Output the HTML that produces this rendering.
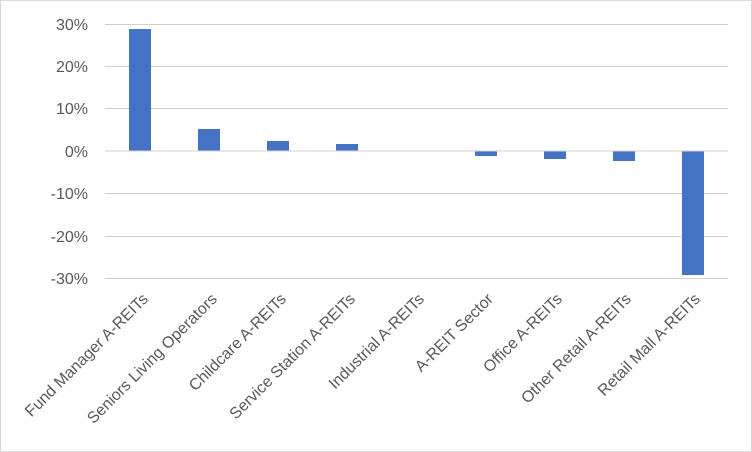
<!DOCTYPE html>
<html><head><style>
body{margin:0;background:#fff}
svg{display:block}
text{font-family:"Liberation Sans",Arial,sans-serif;font-size:16px;fill:#595959}
</style></head><body>
<svg width="752" height="452" viewBox="0 0 752 452">
<rect x="0.5" y="0.5" width="751" height="451" fill="#fff" stroke="#d9d9d9" stroke-width="1"/>
<g stroke="#d0d0d0" stroke-width="1">
<line x1="105" x2="728" y1="24.5" y2="24.5"/>
<line x1="105" x2="728" y1="66.5" y2="66.5"/>
<line x1="105" x2="728" y1="108.5" y2="108.5"/>
<line x1="105" x2="728" y1="193.5" y2="193.5"/>
<line x1="105" x2="728" y1="236.5" y2="236.5"/>
<line x1="105" x2="728" y1="278.5" y2="278.5"/>
</g>
<g text-anchor="end">
<text x="88" y="30">30%</text>
<text x="88" y="72">20%</text>
<text x="88" y="114">10%</text>
<text x="88" y="157">0%</text>
<text x="88" y="199">-10%</text>
<text x="88" y="242">-20%</text>
<text x="88" y="284">-30%</text>
</g>
<g fill="#4472c4">
<rect x="129" y="29" width="22" height="122"/>
<rect x="198" y="129" width="22" height="22"/>
<rect x="267" y="141" width="22" height="10"/>
<rect x="336" y="144" width="22" height="7"/>
<rect x="475" y="151" width="22" height="5"/>
<rect x="544" y="151" width="22" height="8"/>
<rect x="613" y="151" width="22" height="10"/>
<rect x="682" y="151" width="22" height="124"/>
</g>
<line x1="105" x2="728" y1="151" y2="151" stroke="#d0d0d0" stroke-width="1"/>
<g text-anchor="end" style="font-size:17.5px">
<text transform="translate(149,300) rotate(-45)">Fund Manager A-REITs</text>
<text transform="translate(218,300) rotate(-45)">Seniors Living Operators</text>
<text transform="translate(287,300) rotate(-45)">Childcare A-REITs</text>
<text transform="translate(356,300) rotate(-45)">Service Station A-REITs</text>
<text transform="translate(425,300) rotate(-45)">Industrial A-REITs</text>
<text transform="translate(494,300) rotate(-45)">A-REIT Sector</text>
<text transform="translate(563,300) rotate(-45)">Office A-REITs</text>
<text transform="translate(632,300) rotate(-45)">Other Retail A-REITs</text>
<text transform="translate(701,300) rotate(-45)">Retail Mall A-REITs</text>
</g>
</svg>
</body></html>
